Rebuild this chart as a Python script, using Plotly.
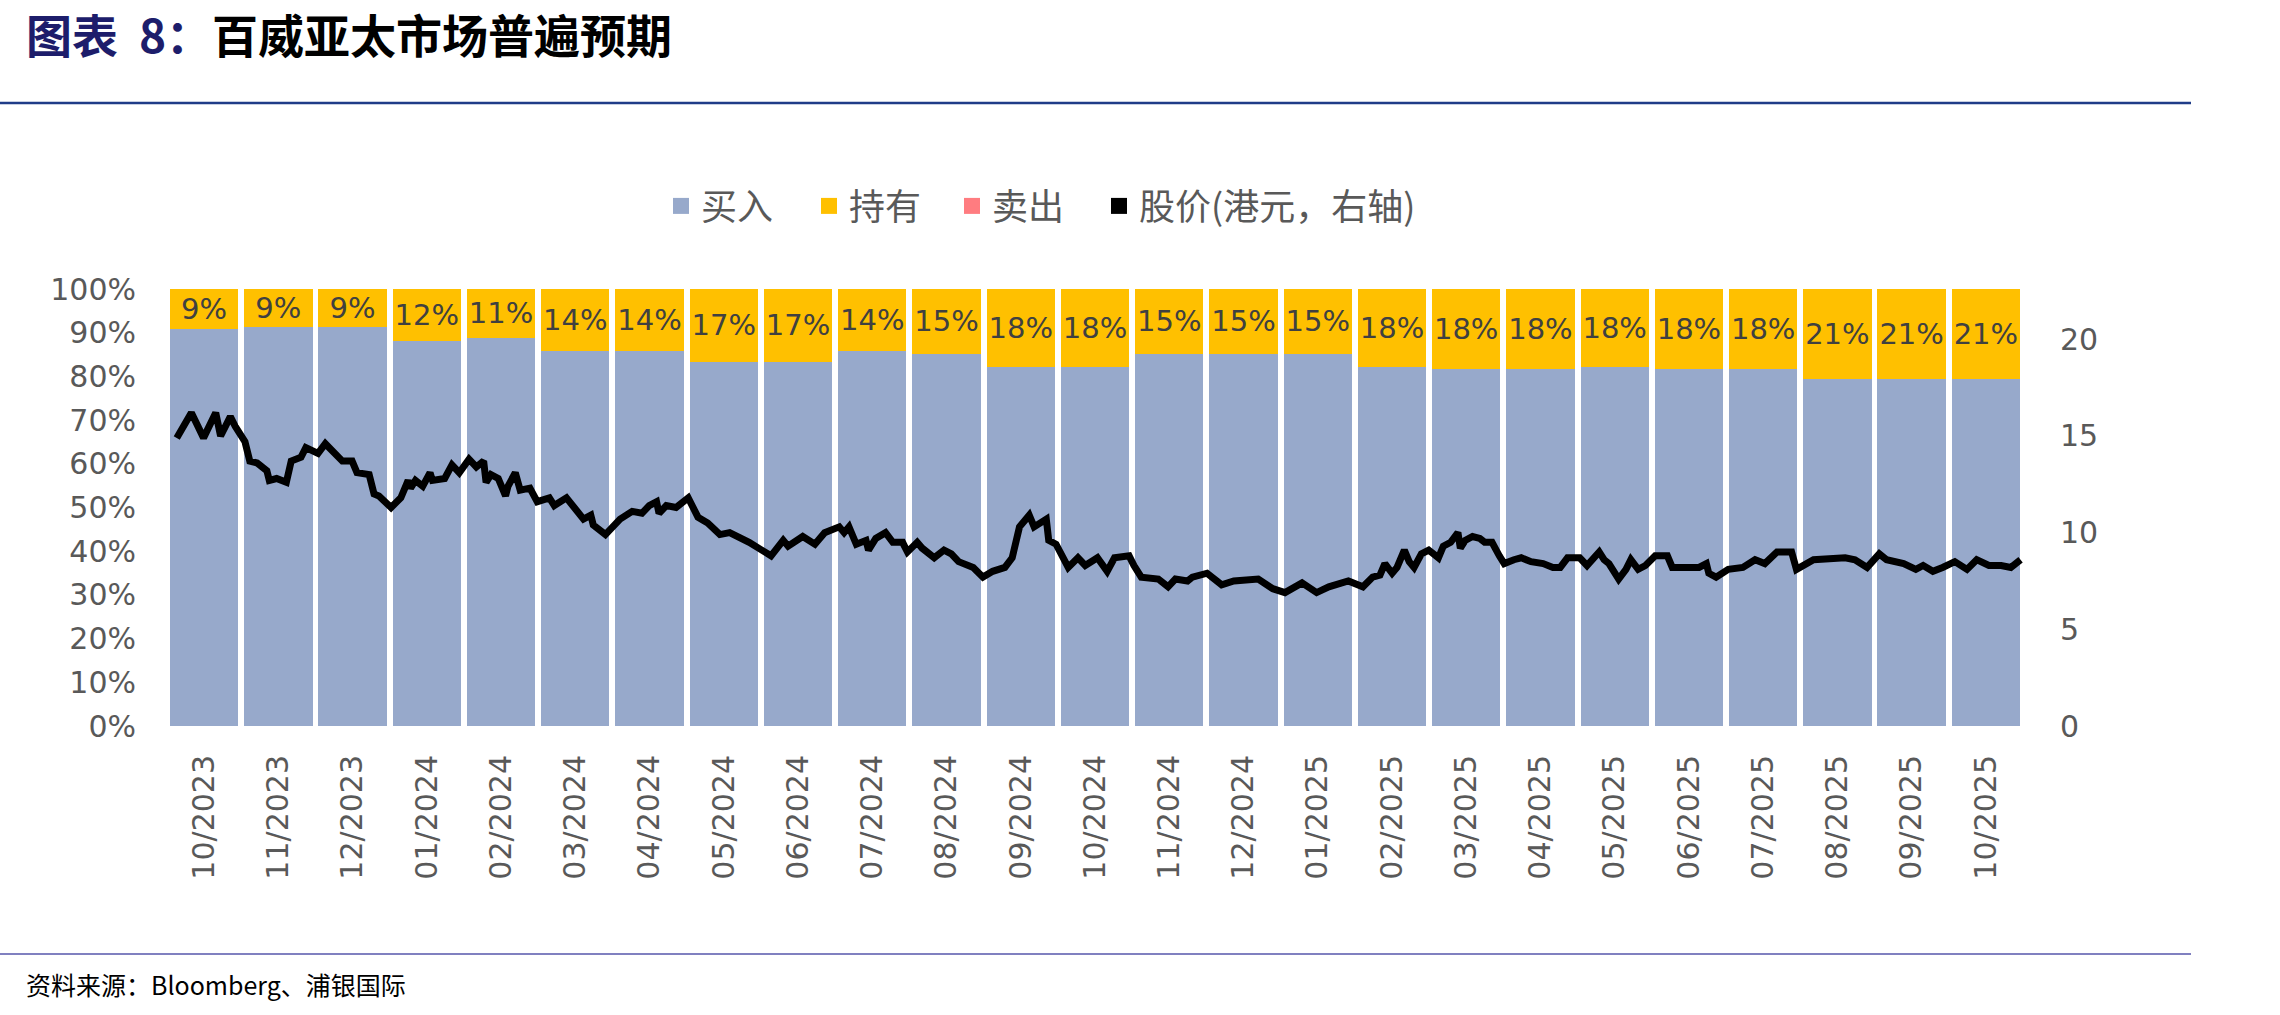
import plotly.graph_objects as go

# ---------------- data ----------------
months = ["10/2023", "11/2023", "12/2023", "01/2024", "02/2024", "03/2024", "04/2024",
          "05/2024", "06/2024", "07/2024", "08/2024", "09/2024", "10/2024", "11/2024",
          "12/2024", "01/2025", "02/2025", "03/2025", "04/2025", "05/2025", "06/2025",
          "07/2025", "08/2025", "09/2025", "10/2025"]

buy_pct = [90.9, 91.3, 91.3, 88.0, 88.9, 85.7, 85.7, 83.3, 83.3, 85.7, 85.2, 82.1, 82.1,
           85.2, 85.2, 85.2, 82.1, 81.8, 81.8, 82.1, 81.8, 81.8, 79.3, 79.3, 79.3]
hold_pct = [9.1, 8.7, 8.7, 12.0, 11.1, 14.3, 14.3, 16.7, 16.7, 14.3, 14.8, 17.9, 17.9,
            14.8, 14.8, 14.8, 17.9, 18.2, 18.2, 17.9, 18.2, 18.2, 20.7, 20.7, 20.7]
sell_pct = [0, 0, 0, 0, 0, 0, 0, 0, 0, 0, 0, 0, 0, 0, 0, 0, 0, 0, 0, 0, 0, 0, 0, 0, 0]

price_dates = [
    "2023-10-05", "2023-10-11", "2023-10-16", "2023-10-21", "2023-10-23", "2023-10-27",
    "2023-10-29", "2023-10-31", "2023-11-02", "2023-11-04", "2023-11-07", "2023-11-11",
    "2023-11-12", "2023-11-15", "2023-11-19", "2023-11-21", "2023-11-25", "2023-11-27",
    "2023-12-02", "2023-12-05", "2023-12-08", "2023-12-12", "2023-12-16", "2023-12-18",
    "2023-12-23", "2023-12-25", "2023-12-27", "2024-01-01", "2024-01-05", "2024-01-08",
    "2024-01-09", "2024-01-11", "2024-01-14", "2024-01-17", "2024-01-18", "2024-01-23",
    "2024-01-26", "2024-01-29", "2024-02-02", "2024-02-05", "2024-02-08", "2024-02-09",
    "2024-02-11", "2024-02-14", "2024-02-17", "2024-02-18", "2024-02-21", "2024-02-23",
    "2024-02-27", "2024-03-01", "2024-03-06", "2024-03-08", "2024-03-13", "2024-03-17",
    "2024-03-20", "2024-03-23", "2024-03-24", "2024-03-29", "2024-04-04", "2024-04-09",
    "2024-04-13", "2024-04-16", "2024-04-19", "2024-04-20", "2024-04-23", "2024-04-27",
    "2024-05-02", "2024-05-06", "2024-05-10", "2024-05-15", "2024-05-19", "2024-05-27",
    "2024-05-31", "2024-06-05", "2024-06-10", "2024-06-12", "2024-06-18", "2024-06-23",
    "2024-06-27", "2024-06-30", "2024-07-03", "2024-07-05", "2024-07-07", "2024-07-10",
    "2024-07-14", "2024-07-15", "2024-07-18", "2024-07-22", "2024-07-25", "2024-07-29",
    "2024-07-31", "2024-08-04", "2024-08-06", "2024-08-11", "2024-08-15", "2024-08-18",
    "2024-08-21", "2024-08-27", "2024-08-31", "2024-09-04", "2024-09-09", "2024-09-12",
    "2024-09-15", "2024-09-19", "2024-09-21", "2024-09-26", "2024-09-27", "2024-09-30",
    "2024-10-05", "2024-10-09", "2024-10-12", "2024-10-17", "2024-10-21", "2024-10-24",
    "2024-10-30", "2024-11-01", "2024-11-04", "2024-11-11", "2024-11-15", "2024-11-18",
    "2024-11-23", "2024-11-25", "2024-12-01", "2024-12-07", "2024-12-12", "2024-12-22",
    "2024-12-28", "2025-01-02", "2025-01-09", "2025-01-15", "2025-01-20", "2025-01-28",
    "2025-02-03", "2025-02-07", "2025-02-10", "2025-02-12", "2025-02-15", "2025-02-17",
    "2025-02-20", "2025-02-22", "2025-02-24", "2025-02-27", "2025-03-02", "2025-03-06",
    "2025-03-08", "2025-03-11", "2025-03-14", "2025-03-15", "2025-03-17", "2025-03-20",
    "2025-03-23", "2025-03-25", "2025-03-28", "2025-03-31", "2025-04-02", "2025-04-06",
    "2025-04-09", "2025-04-13", "2025-04-18", "2025-04-22", "2025-04-25", "2025-04-28",
    "2025-05-03", "2025-05-06", "2025-05-11", "2025-05-13", "2025-05-15", "2025-05-19",
    "2025-05-22", "2025-05-24", "2025-05-27", "2025-05-30", "2025-06-03", "2025-06-08",
    "2025-06-10", "2025-06-14", "2025-06-21", "2025-06-24", "2025-06-25", "2025-06-28",
    "2025-07-03", "2025-07-09", "2025-07-14", "2025-07-18", "2025-07-23", "2025-07-29",
    "2025-07-31", "2025-08-07", "2025-08-15", "2025-08-20", "2025-08-24", "2025-08-29",
    "2025-09-03", "2025-09-06", "2025-09-13", "2025-09-18", "2025-09-21", "2025-09-25",
    "2025-09-29", "2025-10-04", "2025-10-09", "2025-10-13", "2025-10-18", "2025-10-23",
    "2025-10-27", "2025-10-31"]
price_hkd = [
    14.9, 16.2, 14.9, 16.2, 15.0, 16.0, 15.5, 15.0, 14.7, 13.7, 13.6, 13.2,
    12.7, 12.8, 12.6, 13.7, 13.9, 14.4, 14.1, 14.6, 14.2, 13.7, 13.7, 13.1,
    13.0, 12.0, 11.9, 11.3, 11.8, 12.7, 12.3, 12.7, 12.4, 13.1, 12.7, 12.8,
    13.5, 13.1, 13.8, 13.4, 13.7, 12.6, 13.0, 12.8, 11.9, 12.4, 13.1, 12.2,
    12.3, 11.6, 11.8, 11.4, 11.8, 11.2, 10.7, 10.9, 10.4, 9.9, 10.7, 11.1,
    11.0, 11.4, 11.6, 11.0, 11.4, 11.3, 11.8, 10.8, 10.5, 9.9, 10.0, 9.5,
    9.2, 8.8, 9.6, 9.3, 9.8, 9.4, 10.0, 10.2, 10.3, 10.0, 10.3, 9.4,
    9.6, 9.1, 9.7, 10.0, 9.5, 9.5, 9.0, 9.5, 9.2, 8.7, 9.1, 8.9,
    8.5, 8.2, 7.7, 8.0, 8.2, 8.7, 10.3, 10.9, 10.3, 10.7, 9.6, 9.4,
    8.2, 8.7, 8.3, 8.7, 8.0, 8.7, 8.8, 8.3, 7.7, 7.6, 7.2, 7.6,
    7.5, 7.7, 7.9, 7.3, 7.5, 7.6, 7.1, 6.9, 7.4, 6.9, 7.2, 7.5,
    7.2, 7.7, 7.8, 8.4, 7.9, 8.2, 9.1, 8.5, 8.2, 8.9, 9.1, 8.7,
    9.3, 9.5, 10.0, 9.2, 9.6, 9.8, 9.7, 9.5, 9.5, 8.8, 8.4, 8.6,
    8.7, 8.5, 8.4, 8.2, 8.2, 8.7, 8.7, 8.3, 9.0, 8.6, 8.4, 7.6,
    8.1, 8.6, 8.1, 8.3, 8.8, 8.8, 8.2, 8.2, 8.2, 8.4, 7.9, 7.7,
    8.1, 8.2, 8.6, 8.4, 9.0, 9.0, 8.1, 8.6, 8.7, 8.7, 8.6, 8.2,
    8.9, 8.6, 8.4, 8.1, 8.3, 8.0, 8.2, 8.5, 8.1, 8.6, 8.3, 8.3,
    8.2, 8.6]

left_ticks = [0, 10, 20, 30, 40, 50, 60, 70, 80, 90, 100]
left_tick_text = ["0%", "10%", "20%", "30%", "40%", "50%", "60%", "70%", "80%", "90%", "100%"]
right_ticks = [0, 5, 10, 15, 20]

legend_names = ["买入", "持有", "卖出", "股价(港元，右轴)"]

# ---------------- style / layout helpers ----------------
C_BUY, C_HOLD, C_SELL, C_PRICE = "#97A9CB", "#FFC000", "#FF7C80", "#000000"
GREY = "#595959"
W, H = 2280, 1015
L, R, T, B = 167, 2023, 289, 726


def pxx(x):
    return (x - L) / (R - L)


def pxy(y):
    return (B - y) / (B - T)


fig = go.Figure()
fig.add_bar(x=months, y=buy_pct, name=legend_names[0], marker=dict(color=C_BUY, line=dict(width=0)),
            showlegend=False, hoverinfo="skip")
fig.add_bar(x=months, y=hold_pct, name=legend_names[1], marker=dict(color=C_HOLD, line=dict(width=0)),
            texttemplate="%{y:.0f}%", textposition="inside", insidetextanchor="middle",
            textangle=0, constraintext="none",
            textfont=dict(family="DejaVu Sans", size=29, color="#404040"),
            showlegend=False, hoverinfo="skip")
fig.add_bar(x=months, y=sell_pct, name=legend_names[2], marker=dict(color=C_SELL, line=dict(width=0)),
            showlegend=False, hoverinfo="skip")
fig.add_scatter(x=price_dates, y=price_hkd, xaxis="x2", yaxis="y2", mode="lines",
                line=dict(color=C_PRICE, width=7), name=legend_names[3], showlegend=False)

# legend entries (square swatches), one small legend per entry for Excel-like spacing
legend_keys = ["legend", "legend2", "legend3", "legend4"]
legend_left = [661, 809, 952, 1099]
for nm, col, key in zip(legend_names, [C_BUY, C_HOLD, C_SELL, C_PRICE], legend_keys):
    fig.add_scatter(x=[None], y=[None], mode="markers", name=nm, legend=key,
                    marker=dict(symbol="square", size=16, color=col))

legend_common = dict(orientation="h", xanchor="left", yanchor="middle",
                     font=dict(family="Noto Sans CJK SC", size=36, color=GREY),
                     bgcolor="rgba(0,0,0,0)")
legend_layout = {}
for key, lx in zip(legend_keys, legend_left):
    legend_layout[key] = dict(x=pxx(lx), y=pxy(206), **legend_common)

fig.update_layout(
    width=W, height=H, autosize=False,
    margin=dict(l=L, r=W - R, t=T, b=H - B, pad=0, autoexpand=False),
    barmode="stack", bargap=0.08,
    plot_bgcolor="white", paper_bgcolor="white",
    font=dict(family="DejaVu Sans", color=GREY),
    xaxis=dict(type="category", tickangle=-90, tickfont=dict(family="DejaVu Sans", size=30, color=GREY),
               showgrid=False, showline=False, zeroline=False, ticks="", ticklabelstandoff=22,
               automargin=False),
    xaxis2=dict(overlaying="x", type="date", range=["2023-10-01", "2025-11-01"], visible=False,
                anchor="y2"),
    yaxis=dict(range=[0, 100], tickmode="array", tickvals=left_ticks, ticktext=left_tick_text,
               tickfont=dict(family="DejaVu Sans", size=30, color=GREY),
               showgrid=False, showline=False, zeroline=False, ticks="", ticklabelstandoff=30,
               automargin=False),
    yaxis2=dict(overlaying="y", side="right", range=[0, 22.6], tickvals=right_ticks,
                tickfont=dict(family="DejaVu Sans", size=30, color=GREY),
                showgrid=False, showline=False, zeroline=False, ticks="", ticklabelstandoff=36,
                automargin=False),
    showlegend=True,
    **legend_layout,
)

# title
fig.add_annotation(xref="paper", yref="paper", x=pxx(24), y=pxy(33), xanchor="left", yanchor="middle",
                   showarrow=False,
                   text="<b><span style='color:#1d1d6b'>图表&nbsp;&nbsp;8：</span>百威亚太市场普遍预期</b>",
                   font=dict(family="Noto Sans CJK SC", size=46, color="#000000"))
# source
fig.add_annotation(xref="paper", yref="paper", x=pxx(24), y=pxy(984), xanchor="left", yanchor="middle",
                   showarrow=False, text="资料来源：Bloomberg、浦银国际",
                   font=dict(family="Noto Sans CJK SC", size=25, color="#000000"))
# rules
fig.add_shape(type="line", xref="paper", yref="paper", x0=pxx(0), x1=pxx(2191), y0=pxy(103), y1=pxy(103),
              line=dict(color="#1F3C88", width=2.5))
fig.add_shape(type="line", xref="paper", yref="paper", x0=pxx(0), x1=pxx(2191), y0=pxy(954), y1=pxy(954),
              line=dict(color="#8080C0", width=2))

fig.write_html("out.html")
